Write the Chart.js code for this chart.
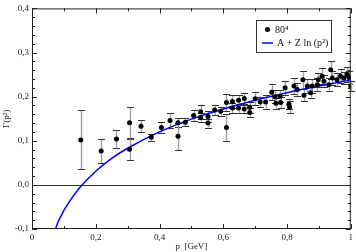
<!DOCTYPE html>
<html lang="en">
<head>
    <meta charset="UTF-8">
    <title>Gamma(p^2) fit</title>
    <script src="https://cdn.jsdelivr.net/npm/chart.js"></script>
    <style>
        html, body { margin: 0; padding: 0; background: #fff; }
        #wrap { width: 356px; height: 252px; position: relative; }
    </style>
</head>
<body>
    <div id="wrap"><canvas id="gammaChart"></canvas></div>

    <script>
        // lattice points 80^4: momentum p [GeV], Gamma(p^2), error
        const pVals = [0.153, 0.217, 0.265, 0.306, 0.306, 0.342, 0.374, 0.406, 0.433, 0.458,
                       0.458, 0.481, 0.507, 0.529, 0.529, 0.552, 0.552, 0.573, 0.592, 0.610,
                       0.610, 0.629, 0.629, 0.648, 0.648, 0.666, 0.666, 0.683, 0.683, 0.700,
                       0.716, 0.733, 0.752, 0.762, 0.765, 0.778, 0.780, 0.794, 0.806, 0.808,
                       0.822, 0.832, 0.850, 0.853, 0.864, 0.874, 0.879, 0.895, 0.898, 0.910,
                       0.916, 0.931, 0.937, 0.942, 0.957, 0.968, 0.978, 0.989, 0.994, 1.000];
        const gammaVals = [0.102, 0.077, 0.104, 0.141, 0.081, 0.133, 0.108, 0.130, 0.146, 0.141,
                           0.110, 0.142, 0.157, 0.166, 0.153, 0.155, 0.140, 0.170, 0.167, 0.187,
                           0.130, 0.189, 0.174, 0.192, 0.174, 0.196, 0.172, 0.176, 0.164, 0.195,
                           0.188, 0.188, 0.210, 0.200, 0.185, 0.201, 0.187, 0.220, 0.183, 0.176,
                           0.224, 0.216, 0.238, 0.203, 0.224, 0.209, 0.224, 0.227, 0.238, 0.246,
                           0.235, 0.227, 0.261, 0.242, 0.238, 0.246, 0.242, 0.250, 0.244, 0.224];
        const gammaErr = [0.067, 0.027, 0.020, 0.036, 0.025, 0.013, 0.008, 0.012, 0.017, 0.010,
                          0.031, 0.009, 0.012, 0.016, 0.010, 0.012, 0.010, 0.012, 0.010, 0.020,
                          0.030, 0.015, 0.012, 0.012, 0.010, 0.012, 0.010, 0.012, 0.010, 0.015,
                          0.012, 0.015, 0.018, 0.015, 0.012, 0.014, 0.013, 0.016, 0.012, 0.014,
                          0.018, 0.015, 0.020, 0.014, 0.015, 0.013, 0.016, 0.015, 0.016, 0.018,
                          0.014, 0.015, 0.020, 0.016, 0.015, 0.016, 0.014, 0.017, 0.015, 0.012];

        // fit curve A + Z ln(p^2)
        const fitP = [0.074, 0.08, 0.10, 0.12, 0.15, 0.20, 0.25, 0.30, 0.40, 0.50, 0.60, 0.70, 0.80, 0.90, 1.00];
        const fitGamma = [-0.100, -0.087, -0.058, -0.035, -0.006, 0.031, 0.060, 0.083, 0.120, 0.149, 0.172, 0.192, 0.209, 0.224, 0.238];

        const xTickLabels = ['0', '0,2', '0,4', '0,6', '0,8', '1'];
        const yTickLabels = ['-0,1', '0,0', '0,1', '0,2', '0,3', '0,4'];

        const seriesLabels = ['80\u2074', 'A + Z ln (p\u00b2)'];

        const serif = "'Liberation Serif', 'DejaVu Serif', serif";

        // error bars under the points
        const errorBars = {
            id: 'errorBars',
            beforeDatasetsDraw(chart) {
                const { ctx, scales: { x, y }, chartArea } = chart;
                ctx.save();
                // zero line
                ctx.strokeStyle = '#333';
                ctx.lineWidth = 1;
                const y0 = Math.round(y.getPixelForValue(0)) + 0.5;
                ctx.beginPath();
                ctx.moveTo(chartArea.left, y0);
                ctx.lineTo(chartArea.right, y0);
                ctx.stroke();

                pVals.forEach((p, i) => {
                    const px = Math.round(x.getPixelForValue(p)) + 0.5;
                    const top = y.getPixelForValue(gammaVals[i] + gammaErr[i]);
                    const bot = y.getPixelForValue(gammaVals[i] - gammaErr[i]);
                    ctx.strokeStyle = '#a0a0a0';
                    ctx.lineWidth = 1.4;
                    ctx.beginPath();
                    ctx.moveTo(px, top);
                    ctx.lineTo(px, bot);
                    ctx.stroke();
                    ctx.strokeStyle = '#333';
                    ctx.lineWidth = 1;
                    ctx.beginPath();
                    ctx.moveTo(px - 3.5, Math.round(top) + 0.5);
                    ctx.lineTo(px + 3.5, Math.round(top) + 0.5);
                    ctx.moveTo(px - 3.5, Math.round(bot) + 0.5);
                    ctx.lineTo(px + 3.5, Math.round(bot) + 0.5);
                    ctx.stroke();
                });
                ctx.restore();
            }
        };

        // frame, inward ticks and legend box
        const frame = {
            id: 'frame',
            afterDraw(chart) {
                const { ctx, scales: { x, y }, chartArea: a } = chart;
                ctx.save();
                ctx.strokeStyle = '#222';
                ctx.lineWidth = 1;
                ctx.strokeRect(a.left + 0.5, a.top + 0.5, a.right - a.left - 1, a.bottom - a.top - 1);

                ctx.beginPath();
                // x ticks: major every 0.2, minor every 0.1
                for (let k = 0; k <= 10; k++) {
                    const px = Math.round(x.getPixelForValue(k / 10)) + 0.5;
                    const len = k % 2 === 0 ? 5 : 3;
                    ctx.moveTo(px, a.bottom); ctx.lineTo(px, a.bottom - len);
                    ctx.moveTo(px, a.top); ctx.lineTo(px, a.top + len);
                }
                // y ticks: major every 0.1, minor every 0.02
                for (let k = 0; k <= 25; k++) {
                    const py = Math.round(y.getPixelForValue(-0.1 + k * 0.02)) + 0.5;
                    const len = k % 5 === 0 ? 5 : 3;
                    ctx.moveTo(a.left, py); ctx.lineTo(a.left + len, py);
                    ctx.moveTo(a.right, py); ctx.lineTo(a.right - len, py);
                }
                ctx.stroke();

                // legend
                const lx = 256, ly = 20, lw = 75, lh = 32;
                ctx.fillStyle = '#fff';
                ctx.fillRect(lx, ly, lw, lh);
                ctx.strokeStyle = '#333';
                ctx.strokeRect(lx + 0.5, ly + 0.5, lw, lh);

                ctx.fillStyle = '#000';
                ctx.beginPath();
                ctx.arc(lx + 11.5, ly + 9.5, 2.5, 0, Math.PI * 2);
                ctx.fill();

                ctx.strokeStyle = '#0000ff';
                ctx.lineWidth = 1.5;
                ctx.beginPath();
                ctx.moveTo(lx + 6, ly + 23);
                ctx.lineTo(lx + 17, ly + 23);
                ctx.stroke();

                ctx.fillStyle = '#111';
                ctx.font = '10px ' + serif;
                ctx.textBaseline = 'middle';
                ctx.fillText(chart.data.datasets[0].label, lx + 19, ly + 10);
                ctx.fillText(chart.data.datasets[1].label, lx + 21, ly + 23);
                ctx.restore();
            }
        };

        const ctx = document.getElementById('gammaChart').getContext('2d');
        new Chart(ctx, {
            data: {
                datasets: [{
                    type: 'scatter',
                    label: seriesLabels[0],
                    data: pVals.map((p, i) => ({ x: p, y: gammaVals[i] })),
                    backgroundColor: '#000',
                    borderWidth: 0,
                    pointRadius: 2.5,
                    order: 0
                }, {
                    type: 'line',
                    label: seriesLabels[1],
                    data: fitP.map((p, i) => ({ x: p, y: fitGamma[i] })),
                    borderColor: '#0000ff',
                    borderWidth: 1.5,
                    pointRadius: 0,
                    fill: false,
                    cubicInterpolationMode: 'monotone',
                    order: 1
                }]
            },
            options: {
                responsive: true,
                maintainAspectRatio: false,
                animation: false,
                layout: { padding: { top: 4, right: 4, left: 0, bottom: 0 } },
                plugins: {
                    legend: { display: false },
                    tooltip: { enabled: false }
                },
                scales: {
                    x: {
                        type: 'linear',
                        min: 0,
                        max: 1,
                        ticks: {
                            stepSize: 0.2,
                            color: '#222',
                            padding: 3,
                            font: { family: serif, size: 9 },
                            callback: (v, i) => xTickLabels[i]
                        },
                        grid: { display: false, drawTicks: false },
                        border: { display: false },
                        title: {
                            display: true,
                            text: 'p  [GeV]',
                            color: '#222',
                            font: { family: serif, size: 9 },
                            padding: { top: 0, bottom: 0 }
                        },
                        afterFit: s => { s.height = 23; }
                    },
                    y: {
                        type: 'linear',
                        min: -0.1,
                        max: 0.4,
                        ticks: {
                            stepSize: 0.1,
                            color: '#222',
                            padding: 3,
                            font: { family: serif, size: 9 },
                            callback: (v, i) => yTickLabels[i]
                        },
                        grid: { display: false, drawTicks: false },
                        border: { display: false },
                        title: {
                            display: true,
                            text: '\u0393(p\u00b2)',
                            color: '#222',
                            font: { family: serif, size: 9 },
                            padding: { top: 1, bottom: 0 }
                        },
                        afterFit: s => { s.width = 32; }
                    }
                }
            },
            plugins: [errorBars, frame]
        });
    </script>
</body>
</html>
